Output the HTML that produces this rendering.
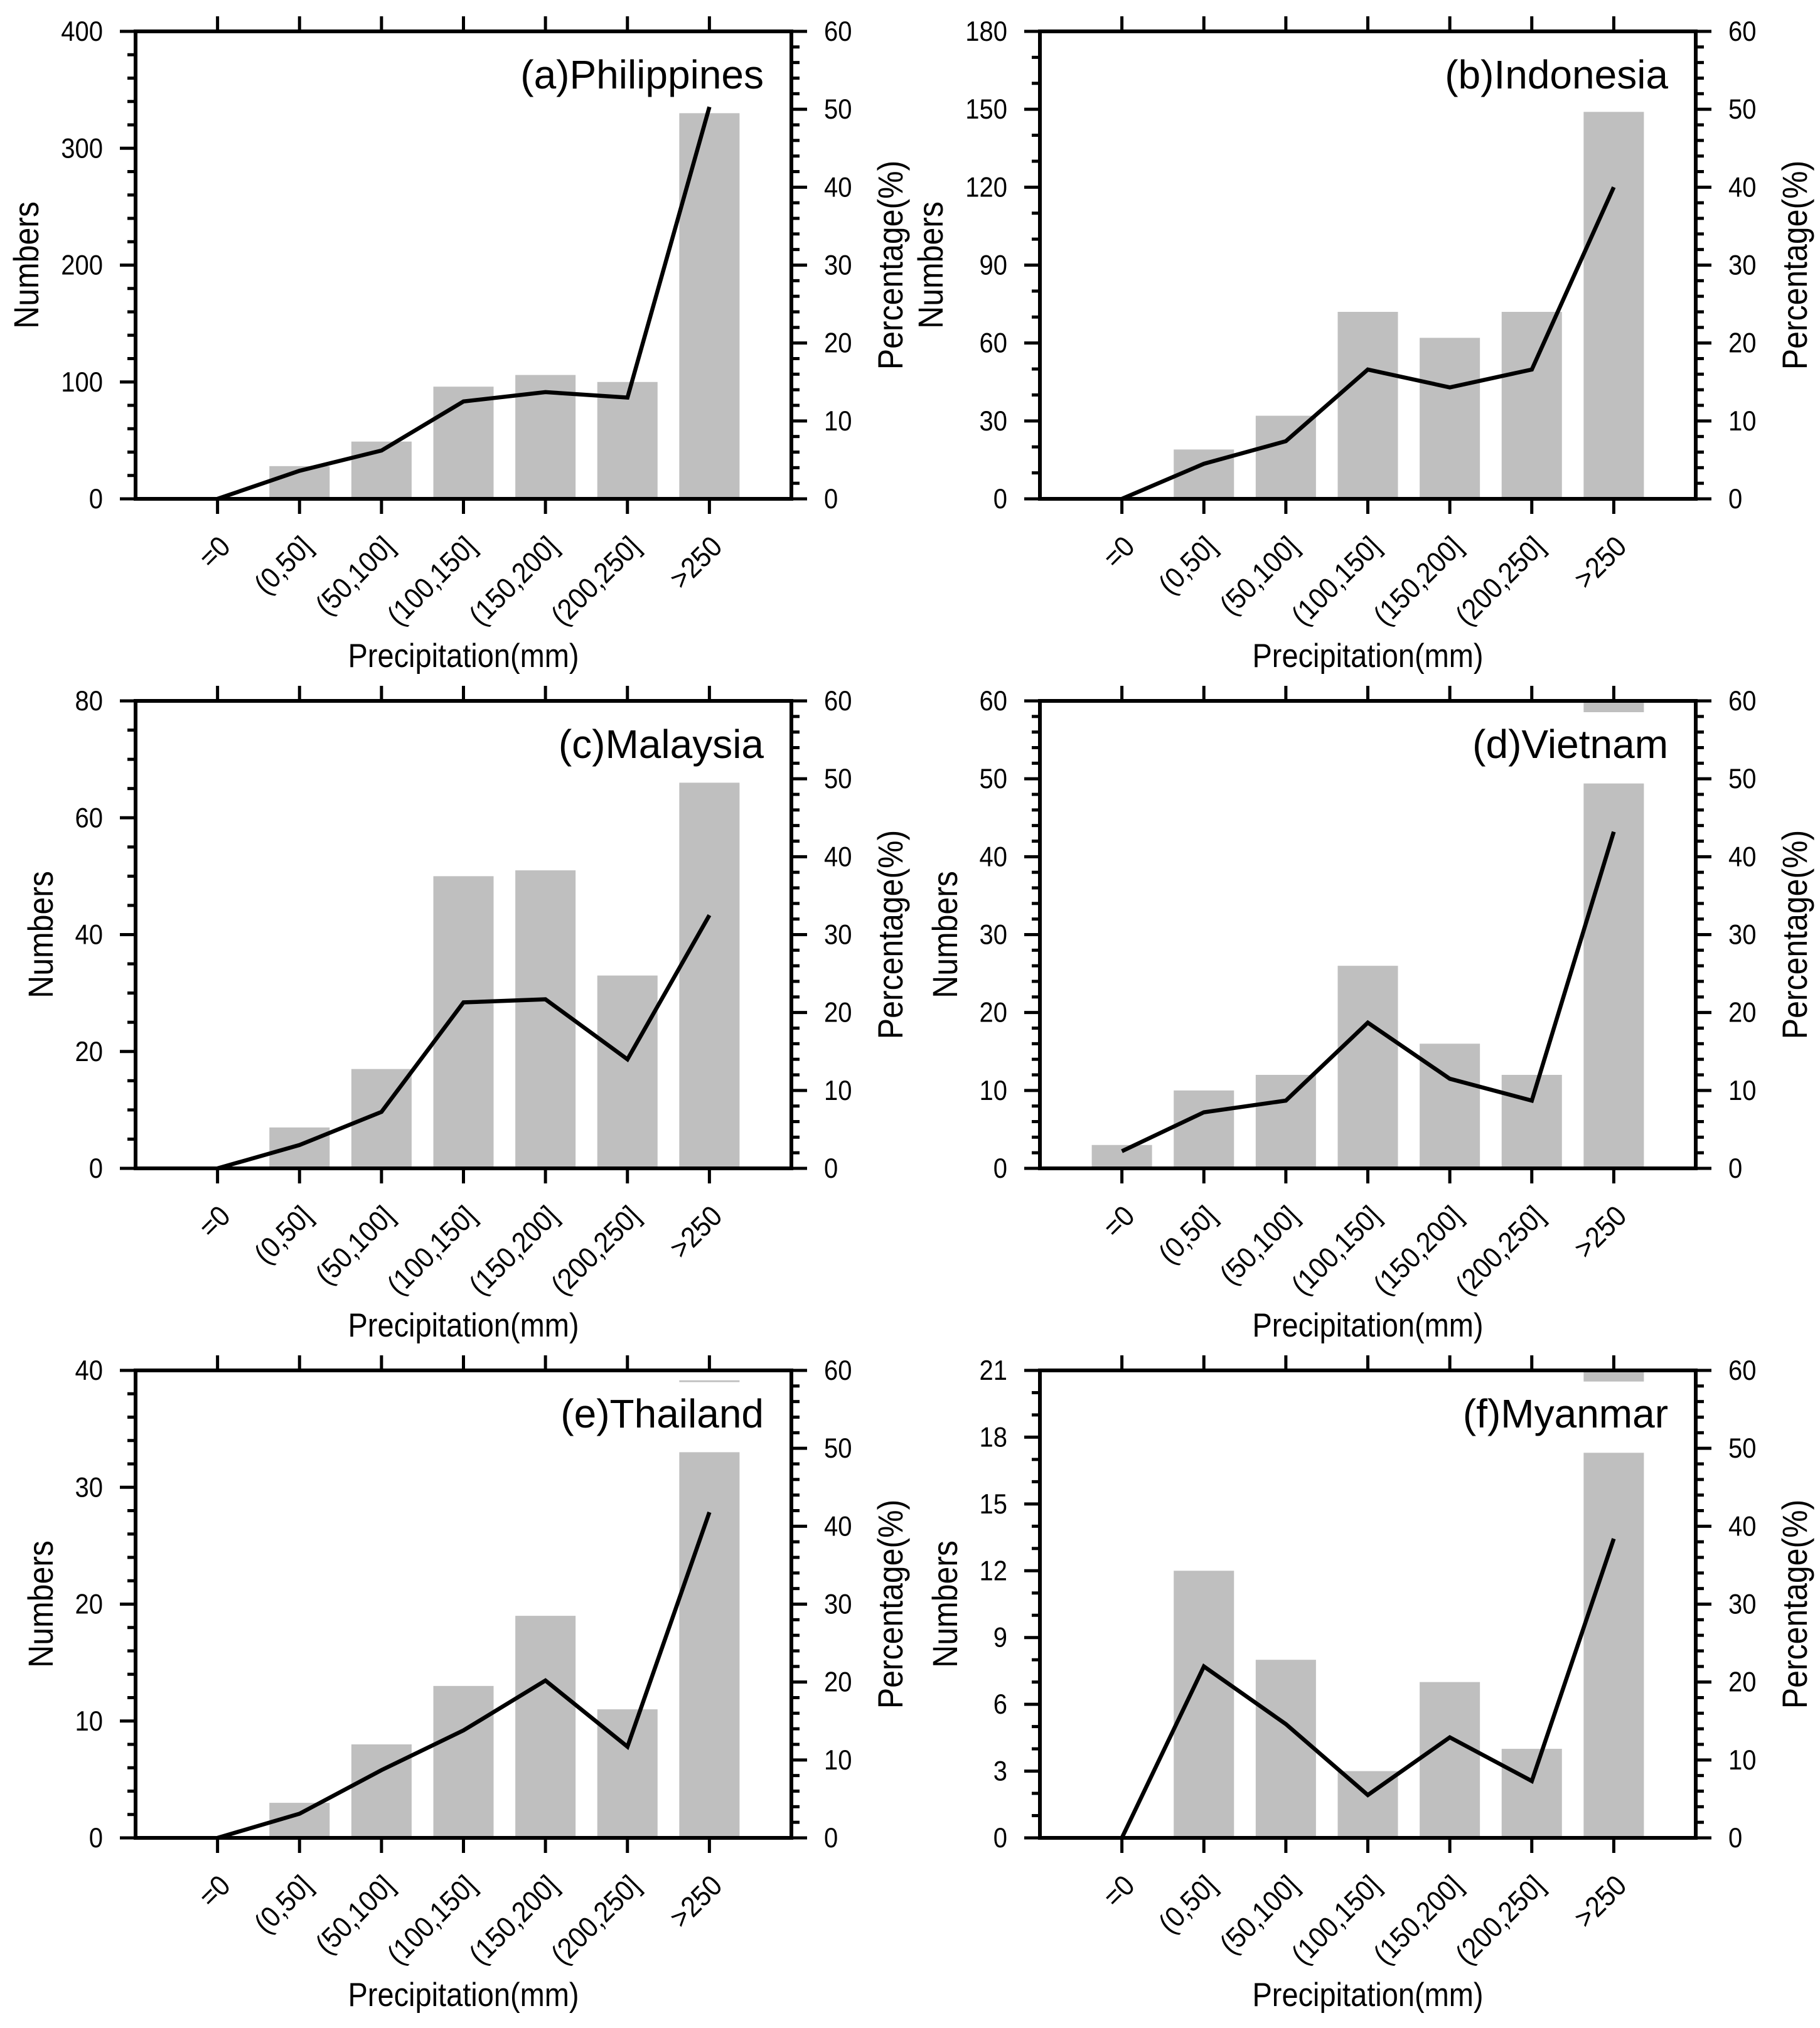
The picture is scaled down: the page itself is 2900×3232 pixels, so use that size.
<!DOCTYPE html>
<html><head><meta charset="utf-8">
<style>
html,body{margin:0;padding:0;background:#fff;}
svg{display:block;}
text{font-family:"Liberation Sans",Arial,sans-serif;fill:#000;}
</style></head>
<body>
<svg id="fig" xmlns="http://www.w3.org/2000/svg" width="2900" height="3232" viewBox="0 0 2900 3232"></svg>
<script>
const categories = ["=0","(0,50]","(50,100]","(100,150]","(150,200]","(200,250]",">250"];
const titles = ["(a)Philippines","(b)Indonesia","(c)Malaysia","(d)Vietnam","(e)Thailand","(f)Myanmar"];
const countsA = [0,28,49,96,106,100,330];
const countsB = [0,19,32,72,62,72,149];
const countsC = [0,7,17,50,51,33,66];
const countsD = [3,10,12,26,16,12,49.4];
const countsE = [0,3,8,13,19,11,33];
const countsF = [0,12,8,3,7,4,17.3];
const pctA = [0,3.6,6.2,12.5,13.7,13.0,50.3];
const pctB = [0,4.5,7.4,16.6,14.3,16.6,40.0];
const pctC = [0,3.0,7.25,21.3,21.7,14.0,32.5];
const pctD = [2.2,7.2,8.7,18.7,11.5,8.7,43.2];
const pctE = [0,3.1,8.7,13.8,20.2,11.7,41.8];
const pctF = [0,22.0,14.6,5.5,12.9,7.3,38.4];
const leftMax = [400,180,80,60,40,21];
const leftMajor = [100,30,20,10,10,3];
const leftMinor = [20,10,5,2,2,1];
const capFrom = [null,null,null,58.55,39.0,20.5];
const capTo = [null,null,null,60,39.15,21];
const pctMax = 60, pctMajor = 10, pctMinor = 2;

const NS = "http://www.w3.org/2000/svg";
const svg = document.getElementById("fig");
function mk(tag, attrs, parent){
  const e = document.createElementNS(NS, tag);
  for (const k in attrs) e.setAttribute(k, attrs[k]);
  (parent||svg).appendChild(e);
  return e;
}
const W = 1045, H = 745;
const lefts = [216,1657], tops = [50,1117,2184];
const allCounts = [countsA,countsB,countsC,countsD,countsE,countsF];
const allPct = [pctA,pctB,pctC,pctD,pctE,pctF];

for (let p = 0; p < 6; p++) {
  const L = lefts[p%2], T = tops[Math.floor(p/2)], R = L+W, B = T+H;
  const g = mk("g", {});
  
  
  const xs = i => L + (i+1) * W/8;
  const yL = v => B - v/leftMax[p]*H;
  const yR = v => B - v/pctMax*H;
  const bw = 0.735 * W/8;
  allCounts[p].forEach((v,i) => {
    if (v <= 0) return;
    const r = mk("rect", {x: xs(i)-bw/2, y: yL(v), width: bw, height: B-yL(v), fill: "#bfbfbf"}, g);
    
    
  });
  if (capFrom[p] !== null) {
    const r = mk("rect", {x: xs(6)-bw/2, y: yL(capTo[p]), width: bw, height: yL(capFrom[p])-yL(capTo[p]), fill: "#bfbfbf"}, g);
    
    
  }
  const pts = allPct[p].map((v,i) => xs(i).toFixed(1)+","+yR(v).toFixed(1)).join(" ");
  const ln = mk("polyline", {points: pts, fill: "none", stroke: "#000", "stroke-width": 6.5, "stroke-linejoin": "miter"}, g);
  
  
  const fr = mk("rect", {x: L, y: T, width: W, height: H, fill: "none", stroke: "#000", "stroke-width": 6}, g);
  
  
  for (let v = 0; v <= leftMax[p]+1e-9; v += leftMinor[p]) {
    const isMaj = Math.abs(v/leftMajor[p] - Math.round(v/leftMajor[p])) < 1e-6;
    const y = yL(v);
    mk("line", {x1: L, x2: L-(isMaj?25:13), y1: y, y2: y, stroke: "#000", "stroke-width": 5}, g);
    if (isMaj) {
      const t = mk("text", {"font-size": 40, "text-anchor": "end", transform: `translate(${L-52},${y+15}) scale(1,1.12)`}, g);
      t.textContent = String(Math.round(v));
      
      
    }
  }
  for (let v = 0; v <= pctMax; v += pctMinor) {
    const isMaj = v % pctMajor === 0;
    const y = yR(v);
    mk("line", {x1: R, x2: R+(isMaj?25:13), y1: y, y2: y, stroke: "#000", "stroke-width": 5}, g);
    if (isMaj) {
      const t = mk("text", {"font-size": 40, "text-anchor": "start", transform: `translate(${R+52},${y+15}) scale(1,1.12)`}, g);
      t.textContent = String(v);
      
      
    }
  }
  categories.forEach((c,i) => {
    const x = xs(i);
    mk("line", {x1: x, x2: x, y1: B, y2: B+24, stroke: "#000", "stroke-width": 5}, g);
    mk("line", {x1: x, x2: x, y1: T, y2: T-24, stroke: "#000", "stroke-width": 5}, g);
    const t = mk("text", {"font-size": 42, "text-anchor": "end", transform: `translate(${x+23},${B+79}) rotate(-45) scale(1,1.1)`}, g);
    t.textContent = c;
    
    
  });
  const tt = mk("text", {x: R-44, y: T+91, "font-size": 64, "text-anchor": "end"}, g);
  tt.textContent = titles[p];
  
  
  const xt = mk("text", {"font-size": 47, "text-anchor": "middle", transform: `translate(${(L+R)/2},${B+268}) scale(1,1.12)`}, g);
  xt.textContent = "Precipitation(mm)";
  
  
  const off = leftMax[p] >= 100 ? 155 : 132;
  const yt = mk("text", {"font-size": 50, "text-anchor": "middle", transform: `translate(${L-off},${(T+B)/2}) rotate(-90) scale(1,1.12)`}, g);
  yt.textContent = "Numbers";
  
  
  const yr = mk("text", {"font-size": 50, "text-anchor": "middle", transform: `translate(${R+177},${(T+B)/2}) rotate(-90) scale(1,1.12)`}, g);
  yr.textContent = "Percentage(%)";
  
  
}
</script>
</body></html>
